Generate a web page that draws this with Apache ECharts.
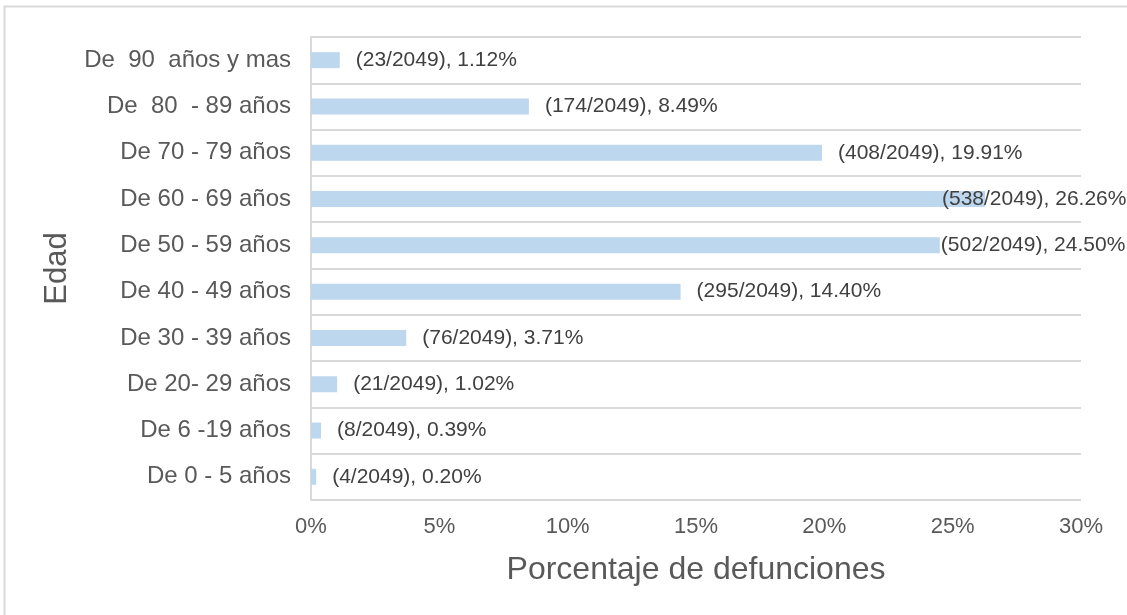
<!DOCTYPE html>
<html>
<head>
<meta charset="utf-8">
<script src="https://cdn.jsdelivr.net/npm/echarts@6/dist/echarts.min.js"></script>
<style>
html,body{margin:0;padding:0;background:#fff;}
#chart{width:1127px;height:615px;}
</style>
</head>
<body>
<div id="chart"></div>
<script>
// Data (bottom to top)
var categories = ['De 0 - 5 años', 'De 6 -19 años', 'De 20- 29 años', 'De 30 - 39 años', 'De 40 - 49 años',
  'De 50 - 59 años', 'De 60 - 69 años', 'De 70 - 79 años', 'De  80  - 89 años', 'De  90  años y mas'];
var counts = [4, 8, 21, 76, 295, 502, 538, 408, 174, 23];
var percents = [0.20, 0.39, 1.02, 3.71, 14.40, 24.50, 26.26, 19.91, 8.49, 1.12];
var total = 2049;
var xTicks = [0, 5, 10, 15, 20, 25, 30];

var FONT = '"Liberation Sans", Arial, sans-serif';
var labelOffsets = {5: [-15, 0], 6: [-59, 0]};

var seriesData = percents.map(function (v, i) {
  var item = {value: v};
  if (labelOffsets[i]) item.label = {offset: labelOffsets[i]};
  return item;
});

var chart = echarts.init(document.getElementById('chart'));
chart.setOption({
  animation: false,
  backgroundColor: '#fff',
  textStyle: {fontFamily: FONT},
  graphic: [{
    type: 'rect', silent: true,
    shape: {x: 4.5, y: 6.5, width: 1200, height: 700},
    style: {fill: 'none', stroke: '#D9D9D9', lineWidth: 2}
  }],
  grid: {left: 311, top: 37, right: 46, bottom: 115, containLabel: false},
  xAxis: {
    type: 'value', min: xTicks[0], max: xTicks[xTicks.length - 1], interval: 5,
    axisLine: {show: false}, axisTick: {show: false}, splitLine: {show: false},
    axisLabel: {formatter: '{value}%', color: '#595959', fontSize: 22, margin: 16, fontFamily: FONT},
    name: 'Porcentaje de defunciones', nameLocation: 'middle', nameGap: 54,
    nameTextStyle: {color: '#595959', fontSize: 32, fontFamily: FONT}
  },
  yAxis: {
    type: 'category', data: categories,
    axisLine: {show: true, lineStyle: {color: '#D9D9D9', width: 2}},
    axisTick: {show: false},
    splitLine: {show: true, lineStyle: {color: '#D9D9D9', width: 2}},
    axisLabel: {color: '#595959', fontSize: 24, margin: 20, fontFamily: FONT},
    name: 'Edad', nameLocation: 'middle', nameGap: 237, nameRotate: 90,
    nameTextStyle: {color: '#595959', fontSize: 31, fontFamily: FONT}
  },
  series: [{
    type: 'bar', data: seriesData, barWidth: 16,
    itemStyle: {color: '#BDD7EE'},
    label: {
      show: true, position: 'right', distance: 16, color: '#404040', fontSize: 21, fontFamily: FONT,
      formatter: function (p) {
        return '(' + counts[p.dataIndex] + '/' + total + '), ' + percents[p.dataIndex].toFixed(2) + '%';
      }
    }
  }]
});
</script>
</body>
</html>
